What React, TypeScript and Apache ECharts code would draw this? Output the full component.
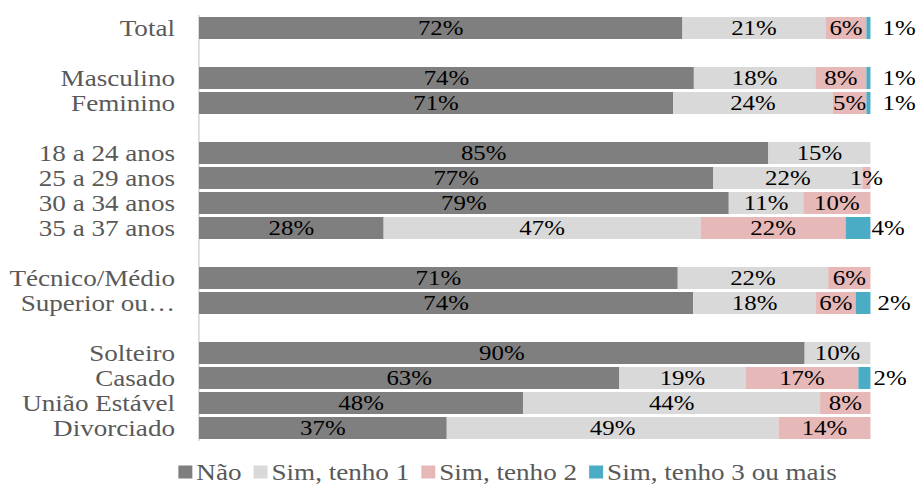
import React, { useEffect, useRef } from "react";
import * as echarts from "echarts";

const categories = [
  "Total", "", "Masculino", "Feminino", "",
  "18 a 24 anos", "25 a 29 anos", "30 a 34 anos", "35 a 37 anos", "",
  "Técnico/Médio", "Superior ou…", "",
  "Solteiro", "Casado", "União Estável", "Divorciado",
];
const seriesNames = ["Não", "Sim, tenho 1", "Sim, tenho 2", "Sim, tenho 3 ou mais"];
const nao = [72.0, null, 73.7, 70.6, null, 84.8, 76.6, 78.9, 27.5, null, 71.3, 73.6, null, 90.2, 62.6, 48.3, 36.9];
const sim1 = [21.3, null, 18.1, 23.8, null, 15.2, 22.2, 11.1, 47.2, null, 22.4, 18.3, null, 9.8, 18.8, 44.2, 49.4];
const sim2 = [6.1, null, 7.6, 5.0, null, null, 1.2, 10.0, 21.6, null, 6.3, 5.9, null, null, 16.8, 7.5, 13.7];
const sim3 = [0.6, null, 0.6, 0.6, null, null, null, null, 3.7, null, null, 2.2, null, null, 1.8, null, null];

const colors = ["#7f7f7f", "#d9d9d9", "#e6b8b7", "#4bacc6"];
// the reference is horizontally stretched; draw narrower and stretch back
const SX = 1.13;
const W = 918;
const H = 489;
const EXTRA = 60; // extra room on the right so outside labels are not clipped
// label gap to the right of the small last segment, per row (page px)
const sim3LabelGap = [12, 0, 12, 12, 0, 0, 0, 0, 1, 0, 0, 7, 0, 0, 3, 0, 0];

const FONT = "Liberation Serif";

export default function App() {
  const ref = useRef<HTMLDivElement>(null);
  useEffect(() => {
    if (!ref.current) return;
    const chart = echarts.init(ref.current, undefined, { renderer: "svg" });
    const fmt = (p: any) =>
      p.value == null || p.value === "" ? "" : Math.round(Number(p.value)) + "%";
    const values = [nao, sim1, sim2, sim3];
    const series = values.map((arr, si) => ({
      name: seriesNames[si],
      type: "bar",
      stack: "total",
      barWidth: 22,
      itemStyle: { color: colors[si] },
      label: {
        show: true,
        position: si === 3 ? "right" : "inside",
        formatter: fmt,
        color: "#000",
        fontFamily: FONT,
        fontSize: 22,
      },
      data: arr.map((v, i) =>
        si === 3 && v != null
          ? { value: v, label: { distance: sim3LabelGap[i] / SX } }
          : v == null ? "-" : v
      ),
    }));
    chart.setOption({
      animation: false,
      textStyle: { fontFamily: FONT },
      grid: {
        left: 199 / SX,
        right: (47 + EXTRA) / SX,
        top: 15.5,
        bottom: 48.5,
        containLabel: false,
      },
      legend: {
        bottom: 0,
        left: 172.7 / SX,
        itemWidth: 14 / SX,
        itemHeight: 13,
        itemGap: 12 / SX,
        icon: "rect",
        textStyle: { color: "#595959", fontFamily: FONT, fontSize: 24, padding: [0, 0, 0, -1.5] },
        data: seriesNames,
      },
      xAxis: {
        type: "value",
        min: 0,
        max: 100,
        show: false,
        splitLine: { show: false },
      },
      yAxis: {
        type: "category",
        inverse: true,
        data: categories,
        axisLine: { show: true, lineStyle: { color: "#d9d9d9", width: 1.5 } },
        axisTick: { show: false },
        axisLabel: {
          color: "#595959",
          fontFamily: FONT,
          fontSize: 24,
          margin: 24 / SX,
          interval: 0,
        },
      },
      series,
    });
    return () => chart.dispose();
  }, []);
  return (
    <div
      style={{
        position: "absolute",
        left: 0,
        top: 0,
        width: W,
        height: H,
        overflow: "hidden",
      }}
    >
      <div
        ref={ref}
        style={{
          position: "absolute",
          left: 0,
          top: 0,
          width: (W + EXTRA) / SX,
          height: H,
          transform: `scaleX(${SX})`,
          transformOrigin: "0 0",
        }}
      />
    </div>
  );
}
